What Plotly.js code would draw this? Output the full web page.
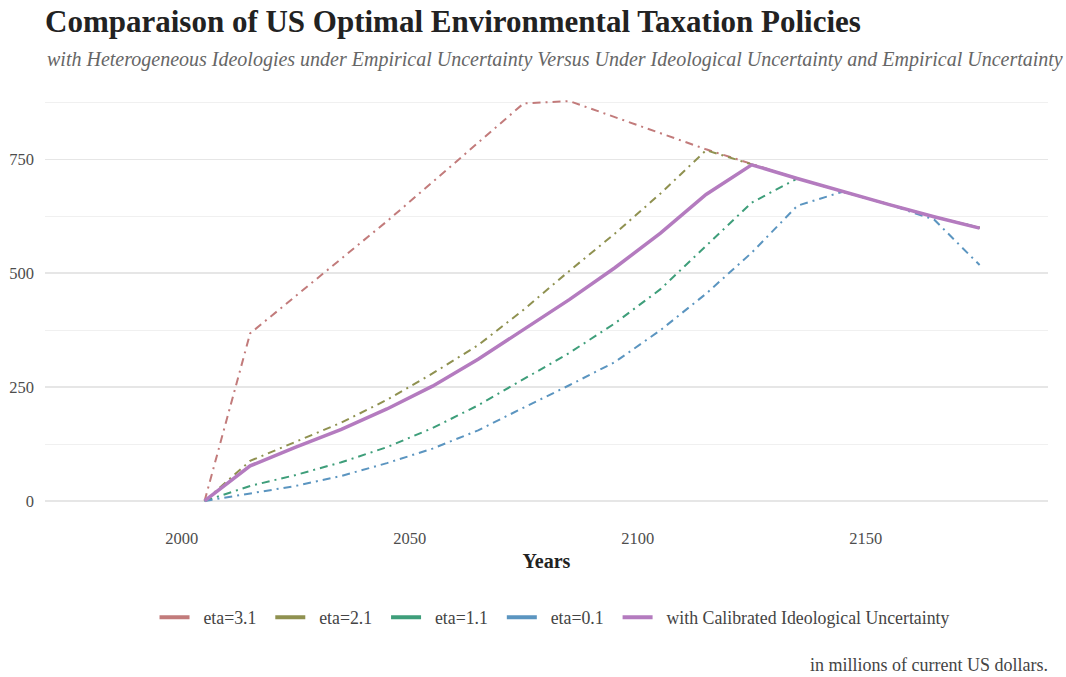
<!DOCTYPE html>
<html>
<head>
<meta charset="utf-8">
<script src="https://cdn.plot.ly/plotly-3.0.1.min.js"></script>
<style>html,body{margin:0;padding:0;background:#fff;}#chart{width:1066px;height:677px;}</style>
</head>
<body>
<div id="chart"></div>
<script>
const years = [2005, 2015, 2025, 2035, 2045, 2055, 2065, 2075, 2085, 2095, 2105, 2115, 2125, 2135, 2145, 2155, 2165, 2175];
const eta31 = [0, 368, 450, 532, 614, 700, 786, 873, 878, 843, 808, 772, 740, 708, 679, 651, 624, 600];
const eta21 = [0, 88, 130, 172, 222, 280, 342, 420, 505, 587, 675, 770, 739, 708, 679, 651, 624, 600];
const eta11 = [0, 33, 57, 85, 118, 160, 210, 268, 325, 390, 465, 560, 655, 708, 679, 651, 624, 600];
const eta01 = [0, 17, 33, 55, 83, 115, 155, 205, 254, 305, 375, 455, 545, 648, 679, 651, 618, 518];
const calibrated = [0, 77, 118, 157, 202, 252, 311, 376, 442, 512, 588, 673, 738, 708, 679, 651, 624, 599];
const seriesNames = ["eta=3.1", "eta=2.1", "eta=1.1", "eta=0.1", "with Calibrated Ideological Uncertainty"];
const colors = ["#c27b7b", "#8f9150", "#3e9e7a", "#5b95c0", "#b47bbf"];

const serif = "Liberation Serif, Times New Roman, serif";
const allSeries = [eta31, eta21, eta11, eta01, calibrated];
const traces = allSeries.map((vals, i) => ({
  x: years,
  y: vals,
  name: seriesNames[i],
  type: "scatter",
  mode: "lines",
  showlegend: false,
  line: {
    color: colors[i],
    width: i === 4 ? 3.5 : 2,
    dash: i === 4 ? "solid" : "8px,5px,2px,5px"
  }
}));
// legend entries with solid swatches (no drawn data)
const pre = "&nbsp;&nbsp;";
const post = "&nbsp;&nbsp;";
const legendTraces = seriesNames.map((nm, i) => ({
  x: [null], y: [null],
  name: pre + nm + (i < seriesNames.length - 1 ? post : ""),
  type: "scatter",
  mode: "lines",
  showlegend: true,
  line: {color: colors[i], width: 4, dash: "solid"}
}));

const layout = {
  width: 1066,
  height: 677,
  paper_bgcolor: "#ffffff",
  plot_bgcolor: "#ffffff",
  margin: {l: 45, r: 18, t: 81, b: 156},
  font: {family: serif, color: "#4d4d4d", size: 16},
  title: {
    text: "<b>Comparaison of US Optimal Environmental Taxation Policies</b>",
    font: {family: serif, size: 31, color: "#222222"},
    xref: "container", x: 45/1066, xanchor: "left",
    yref: "container", y: 1 - 10/677, yanchor: "top"
  },
  xaxis: {
    range: [1970, 2190],
    tickvals: [2000, 2050, 2100, 2150],
    ticktext: ["2000", "2050", "2100", "2150"],
    showgrid: false,
    zeroline: false,
    showline: false,
    ticks: "",
    ticklabelstandoff: 5,
    tickfont: {family: serif, size: 16.5, color: "#4d4d4d"},
    title: {text: "<b>Years</b>", font: {family: serif, size: 20, color: "#222222"}, standoff: 7}
  },
  yaxis: {
    range: [-44, 922],
    tickvals: [0, 250, 500, 750],
    ticktext: ["0", "250", "500", "750"],
    showgrid: true,
    gridcolor: "#e6e6e6",
    gridwidth: 1.6,
    zeroline: false,
    showline: false,
    ticks: "",
    ticklabelstandoff: 10,
    tickfont: {family: serif, size: 16.5, color: "#4d4d4d"},
    minor: {tickvals: [125, 375, 625, 875], showgrid: true, gridcolor: "#f0f0f0", gridwidth: 1}
  },
  legend: {
    orientation: "h",
    x: 0.508, xanchor: "center",
    y: -0.22, yanchor: "middle",
    font: {family: serif, size: 17.8, color: "#444444"},
    itemwidth: 30,
    tracegroupgap: 0
  },
  showlegend: true,
  annotations: [
    {
      text: "<i>with Heterogeneous Ideologies under Empirical Uncertainty Versus Under Ideological Uncertainty and Empirical Uncertainty</i>",
      xref: "paper", yref: "paper",
      x: 0, y: 1 + 21/440, xanchor: "left", yanchor: "middle",
      showarrow: false,
      font: {family: serif, size: 20, color: "#666666"}
    },
    {
      text: "in millions of current US dollars.",
      xref: "paper", yref: "paper",
      x: 1, y: -144/440, xanchor: "right", yanchor: "middle",
      xshift: 2,
      showarrow: false,
      font: {family: serif, size: 18, color: "#444444"}
    }
  ]
};

Plotly.newPlot("chart", traces.concat(legendTraces), layout, {displayModeBar: false, staticPlot: true});
</script>
</body>
</html>
